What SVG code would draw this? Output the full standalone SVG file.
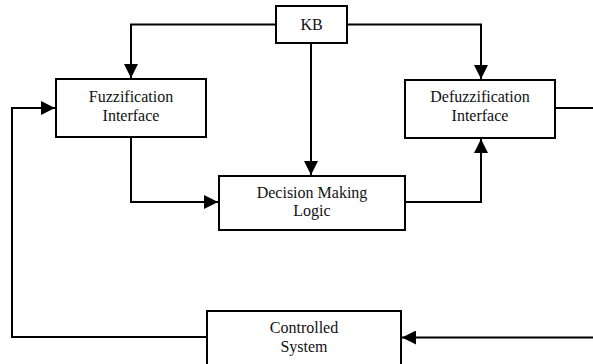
<svg xmlns="http://www.w3.org/2000/svg" width="593" height="364" viewBox="0 0 593 364">
<style>
.box{fill:#fff;stroke:#000;stroke-width:2}
.c{fill:none;stroke:#000;stroke-width:2}
.t{font-family:'Liberation Serif','Times New Roman','DejaVu Serif',serif;font-size:16px;fill:#111;text-anchor:middle}
</style>
<defs>
<marker id="ah" viewBox="0 0 14 14" refX="14" refY="7" markerWidth="14" markerHeight="14" markerUnits="userSpaceOnUse" orient="auto">
<path d="M0,0 L14,7 L0,14 z" fill="#000"/>
</marker>
</defs>
<g id="connectors">
<path class="c" d="M276,24.5 H131 V78" marker-end="url(#ah)"/>
<path class="c" d="M347,24.5 H481 V79" marker-end="url(#ah)"/>
<path class="c" d="M311,43 V175" marker-end="url(#ah)"/>
<path class="c" d="M131,137 V202 H218" marker-end="url(#ah)"/>
<path class="c" d="M405,202 H481 V139" marker-end="url(#ah)"/>
<path class="c" d="M555,108 H593"/>
<path class="c" d="M593,337.5 H402" marker-end="url(#ah)"/>
<path class="c" d="M207,337 H12 V108 H55" marker-end="url(#ah)"/>
</g>
<g id="kb">
<rect class="box" x="276" y="6" width="71" height="37"/>
<text class="t" x="311.5" y="30">KB</text>
</g>
<g id="fuzzification">
<rect class="box" x="56" y="79" width="150" height="58"/>
<text class="t" x="131" y="102">Fuzzification</text>
<text class="t" x="131" y="121">Interface</text>
</g>
<g id="defuzzification">
<rect class="box" x="405" y="80" width="150" height="58"/>
<text class="t" x="480" y="102">Defuzzification</text>
<text class="t" x="480" y="121">Interface</text>
</g>
<g id="decision">
<rect class="box" x="219" y="176" width="186" height="54"/>
<text class="t" x="312" y="198">Decision Making</text>
<text class="t" x="312" y="216">Logic</text>
</g>
<g id="controlled">
<rect class="box" x="207" y="311" width="194" height="60"/>
<text class="t" x="304" y="333">Controlled</text>
<text class="t" x="304" y="352">System</text>
</g>
</svg>
